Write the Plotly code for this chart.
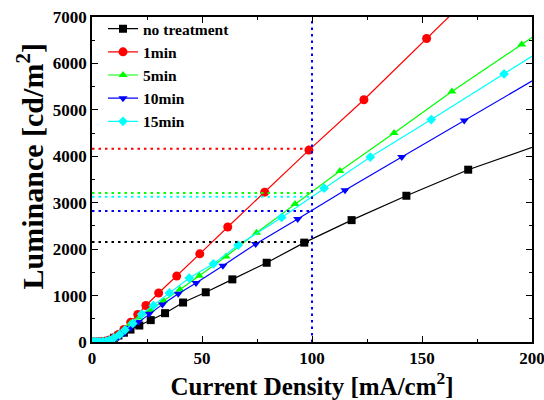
import plotly.graph_objects as go

low_x = [0.3, 0.8, 1.5, 2.5, 3.5, 5, 6.5, 8]

nt_x = low_x + [10, 12, 14.5, 17.5, 21.5, 26.7, 33.2, 41.4, 51.7, 63.8, 79.4, 96.5, 118, 142.9, 171, 210]
nt_y = [0, 0, 0, 1, 2, 5, 12, 28] + [90, 140, 200, 267, 355, 471, 621, 850, 1071, 1349, 1707, 2140, 2625, 3150, 3711, 4355]

m1_x = low_x + [10, 12, 14.5, 17.6, 20.8, 24.5, 30.3, 38.5, 49, 61.7, 78.5, 98.6, 123.6, 152.1, 187]
m1_y = [0, 0, 0, 1, 3, 8, 20, 45] + [90, 160, 270, 428, 593, 786, 1056, 1420, 1899, 2477, 3227, 4133, 5218, 6538, 8150]

m5_x = low_x + [10, 12, 14.5, 17.5, 21.5, 26.5, 32.5, 40, 48.8, 60.9, 74.8, 92.3, 112.7, 137.3, 163.6, 195.3, 230]
m5_y = [0, 0, 0, 1, 2, 6, 15, 35] + [70, 150, 260, 400, 530, 690, 890, 1130, 1428, 1842, 2355, 2970, 3683, 4503, 5396, 6409, 7520]

m10_x = low_x + [10, 12, 14.5, 17.5, 21, 26, 32, 39.2, 47.3, 59.5, 74.4, 93.5, 115, 140.8, 169.2, 205]
m10_y = [0, 0, 0, 1, 2, 4, 10, 20] + [40, 100, 190, 300, 430, 610, 810, 1040, 1270, 1642, 2113, 2649, 3270, 3983, 4769, 5760]

m15_x = low_x + [10, 12.5, 15, 18.5, 22.6, 27.9, 35.2, 44.2, 55.2, 66.4, 86.2, 105.5, 126.5, 154.2, 187.3, 225]
m15_y = [0, 0, 0, 1, 3, 7, 18, 40] + [90, 160, 260, 400, 600, 786, 1056, 1377, 1685, 2084, 2683, 3312, 3983, 4790, 5775, 6900]

names = ["no treatment", "1min", "5min", "10min", "15min"]
xs = [nt_x, m1_x, m5_x, m10_x, m15_x]
ys = [nt_y, m1_y, m5_y, m10_y, m15_y]
colors = ["#000000", "#FF0000", "#00FF00", "#0000FF", "#00FFFF"]
symbols = ["square", "circle", "triangle-up", "triangle-down", "diamond"]
sizes = [8, 9, 8, 8, 7.5]

x_ticks = [0, 50, 100, 150, 200]
y_ticks = [0, 1000, 2000, 3000, 4000, 5000, 6000, 7000]

ref_x = 100
ref_y = [2155, 4160, 3210, 2820, 3130]

fig = go.Figure()
for n, x, y, c, s, sz in zip(names, xs, ys, colors, symbols, sizes):
    fig.add_trace(go.Scatter(x=x, y=y, name="<b>" + n + "</b>", mode="lines+markers",
                             line=dict(color=c, width=1.2),
                             marker=dict(symbol=s, size=sz, color=c)))

dotdash = "2.5px,4px"
for yv, c in zip(ref_y, colors):
    fig.add_trace(go.Scatter(x=[0, ref_x], y=[yv, yv], mode="lines", showlegend=False,
                             line=dict(color=c, width=2, dash=dotdash), hoverinfo="skip"))
fig.add_trace(go.Scatter(x=[ref_x, ref_x], y=[0, 7000], mode="lines", showlegend=False,
                         line=dict(color="#0000FF", width=2, dash=dotdash), hoverinfo="skip"))

font_family = "Liberation Serif"
axis_common = dict(showline=True, linecolor="black", linewidth=1.5, mirror="allticks",
                   ticks="inside", ticklen=6, tickwidth=1.2, tickcolor="black",
                   showgrid=False, zeroline=False, automargin=False,
                   ticklabeloverflow="allow",
                   tickfont=dict(family=font_family, size=17, color="black"))

fig.update_xaxes(range=[0, 200], tickmode="array", tickvals=x_ticks,
                 ticktext=["<b>%d</b>" % v for v in x_ticks],
                 minor=dict(ticks="inside", ticklen=3, dtick=25, tick0=0, tickcolor="black"),
                 title=dict(text="<b>Current Density [mA/cm<sup>2</sup>]</b>",
                            font=dict(family=font_family, size=25, color="black"), standoff=0),
                 **axis_common)
fig.update_yaxes(range=[0, 7000], tickmode="array", tickvals=y_ticks,
                 ticktext=["<b>%d</b>" % v for v in y_ticks],
                 minor=dict(ticks="inside", ticklen=3, dtick=500, tick0=0, tickcolor="black"),
                 **axis_common)

fig.add_annotation(text="<b>Luminance [cd/m<sup>2</sup>]</b>", textangle=-90,
                   xref="paper", yref="paper", x=-0.141, y=0.54,
                   xanchor="center", yanchor="middle", showarrow=False,
                   font=dict(family=font_family, size=30, color="black"))

fig.update_layout(width=544, height=400, margin=dict(l=92, r=12, t=15, b=58),
                  plot_bgcolor="white", paper_bgcolor="white",
                  legend=dict(x=0.025, y=1.015, xanchor="left", yanchor="top",
                              bgcolor="rgba(0,0,0,0)", tracegroupgap=0,
                              font=dict(family=font_family, size=15.5, color="black")))

fig.write_html("out.html")
